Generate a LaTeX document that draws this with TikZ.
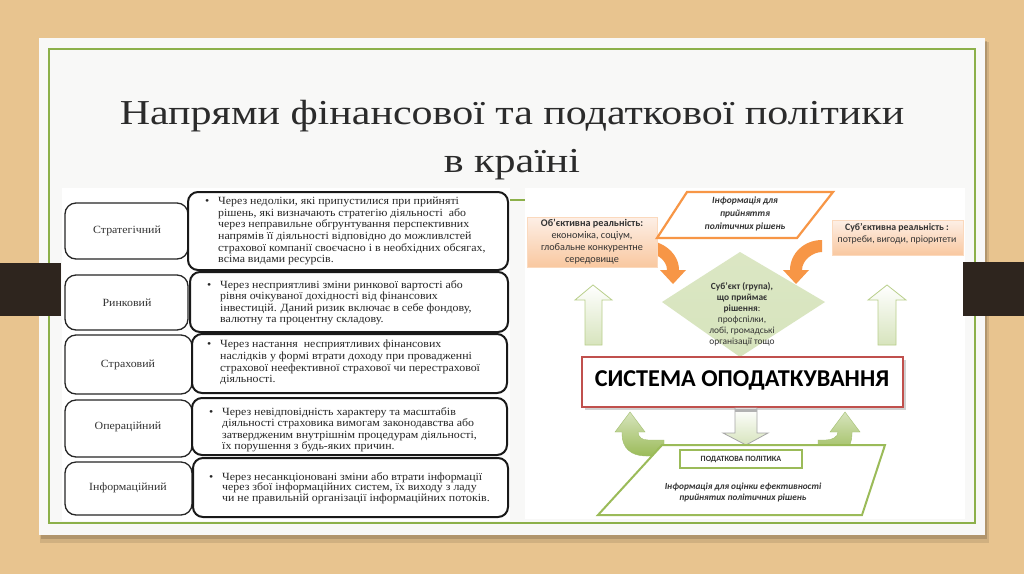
\documentclass[tikz,border=0pt]{standalone}
\usepackage{fontspec}
\setmainfont{Liberation Serif}
\newfontfamily\titlefont[FakeStretch=1.2]{Liberation Serif}
\newfontfamily\tabfont[FakeStretch=1.08]{Liberation Serif}
\newfontfamily\calfont{Carlito}
\definecolor{wood}{HTML}{E8C48F}
\definecolor{card}{HTML}{F8F8F7}
\definecolor{frameg}{HTML}{8CB04A}
\definecolor{barc}{HTML}{2E251E}
\definecolor{ttl}{HTML}{2B2B2B}
\definecolor{orng}{HTML}{F79646}
\definecolor{peachT}{HTML}{FDEFE6}
\definecolor{peachB}{HTML}{F9C8A0}
\definecolor{grn}{HTML}{9BBB59}
\definecolor{grnL}{HTML}{D7E4BD}
\definecolor{grnD}{HTML}{8AAE4A}
\definecolor{redb}{HTML}{C0504D}
\definecolor{txtg}{HTML}{333333}
\begin{document}
\begin{tikzpicture}[x=1pt,y=-1pt,
  labbox/.style={draw=black!85,line width=1.3pt,rounded corners=11pt,fill=white},
  descbox/.style={draw=black!90,line width=2pt,rounded corners=10pt,fill=white},
  labtxt/.style={font=\tabfont\fontsize{11}{12}\selectfont,text=black!80,inner sep=0pt},
  desctxt/.style={font=\tabfont\fontsize{11}{11.6}\selectfont,text=black!85,align=left,anchor=north west,inner sep=0pt},
  ttlstyle/.style={font=\titlefont\fontsize{35}{40}\selectfont,text=ttl,anchor=base,inner sep=0pt},
  rtxt/.style={font=\calfont\fontsize{9.5}{12}\selectfont,text=txtg,align=center,inner sep=0pt},
  greenarrow/.style={top color=grnL,bottom color=grn,draw=grnD!80,line width=0.4pt},
  hollowarrow/.style={top color=white,bottom color=grnL,draw=grn!70,line width=0.8pt}
]
\useasboundingbox (0,0) rectangle (1024,574);
% background
\fill[wood] (0,0) rectangle (1024,574);
% card shadow
\fill[black,opacity=0.10] (40,42) rectangle (989,543);
\fill[black,opacity=0.15] (41,41) rectangle (987,539);
\fill[card] (39,38) rectangle (985,535);
\draw[frameg,line width=1.2pt] (49,49) rectangle (975,523);
\draw[frameg,line width=1.2pt] (62,200) -- (965,200);
% title
\node[ttlstyle] (t1) at (512,124) {Напрями фінансової та податкової політики};
\node[ttlstyle] (t2) at (512,172) {в країні};
% image backgrounds
\fill[white] (62,188) rectangle (510,521);
\fill[white] (525,188) rectangle (965,519);
% side bars
\fill[barc] (0,263) rectangle (61,316);
\fill[barc] (963,262) rectangle (1024,316);

% ---------- left table ----------
\draw[labbox] (65,203) rectangle (188,259);
\draw[descbox] (188,192) rectangle (508,270);
\node[labtxt] (l1) at (127,231) {Стратегічний};
\node[desctxt] (d1) at (205,197) {\makebox[13pt][l]{•}Через недоліки, які припустилися при прийняті\\
\hspace*{13pt}рішень, які визначають стратегію діяльності~ або\\
\hspace*{13pt}через неправильне обгрунтування перспективних\\
\hspace*{13pt}напрямів її діяльності відповідно до можливлстей\\
\hspace*{13pt}страхової компанії своєчасно і в необхідних обсягах,\\
\hspace*{13pt}всіма видами ресурсів.};

\draw[labbox] (65,275) rectangle (188,330);
\draw[descbox] (190,272) rectangle (508,332);
\node[labtxt] (l2) at (127,303) {Ринковий};
\node[desctxt] (d2) at (207,280) {\makebox[13pt][l]{•}Через несприятливі зміни ринкової вартості або\\
\hspace*{13pt}рівня очікуваної дохідності від фінансових\\
\hspace*{13pt}інвестицій. Даний ризик включає в себе фондову,\\
\hspace*{13pt}валютну та процентну складову.};

\draw[labbox] (65,335) rectangle (192,394);
\draw[descbox] (192,334) rectangle (507,393);
\node[labtxt] (l3) at (128,365) {Страховий};
\node[desctxt] (d3) at (207,340) {\makebox[13pt][l]{•}Через настання~ несприятливих фінансових\\
\hspace*{13pt}наслідків у формі втрати доходу при провадженні\\
\hspace*{13pt}страхової неефективної страхової чи перестрахової\\
\hspace*{13pt}діяльності.};

\draw[labbox] (65,400) rectangle (192,457);
\draw[descbox] (192,398) rectangle (507,455);
\node[labtxt] (l4) at (128,427) {Операційний};
\node[desctxt] (d4) at (209,407) {\makebox[13pt][l]{•}Через невідповідність характеру та масштабів\\
\hspace*{13pt}діяльності страховика вимогам законодавства або\\
\hspace*{13pt}затвердженим внутрішнім процедурам діяльності,\\
\hspace*{13pt}їх порушення з будь-яких причин.};

\draw[labbox] (65,462) rectangle (192,515);
\draw[descbox] (193,458) rectangle (508,517);
\node[labtxt] (l5) at (128,488) {Інформаційний};
\node[desctxt,font=\tabfont\fontsize{11}{10.8}\selectfont] (d5) at (209,472) {\makebox[13pt][l]{•}Через несанкціоновані зміни або втрати інформації\\
\hspace*{13pt}через збої інформаційних систем, їх виходу з ладу\\
\hspace*{13pt}чи не правильній організації інформаційних потоків.};

% ---------- right diagram ----------
% orange curved arrows
\fill[orng] (643,240) .. controls (663,240) and (679,253.5) .. (679,270) -- (686,270) -- (673,284) -- (660,270) -- (667,270) .. controls (667,260) and (656,252) .. (643,252) -- cycle;
\fill[orng] (822,240) .. controls (804,240) and (790,253.5) .. (790,270) -- (783,270) -- (796,284) -- (809,270) -- (802,270) .. controls (802,260) and (813,252) .. (822,252) -- cycle;
% side boxes
\shade[top color=peachT,bottom color=peachB,draw=peachB!70!white,line width=0.4pt] (527,217) rectangle (657,267);
\node[rtxt,font=\calfont\fontsize{10.2}{12}\selectfont] (obj) at (592,242) {\textbf{Об’єктивна реальність:}\\економіка, соціум,\\глобальне конкурентне\\середовище};
\shade[top color=peachT,bottom color=peachB,draw=peachB!70!white,line width=0.4pt] (832,220) rectangle (963,255);
\node[rtxt,font=\calfont\fontsize{9.8}{12}\selectfont] (subj) at (897,234) {\textbf{Суб’єктивна реальність :}\\потреби, вигоди, пріоритети};
% top parallelogram
\draw[orng,line width=2.2pt,fill=white] (687,192) -- (833,192) -- (797,238) -- (657,238) -- cycle;
\node[rtxt,font=\calfont\bfseries\itshape\fontsize{9.5}{13}\selectfont] (info1) at (745,214) {Інформація для\\прийняття\\політичних рішень};
% diamond
\shade[top color=grnL!90!white,bottom color=grnL] (740,252) -- (825,302) -- (740,357) -- (662,302) -- cycle;
\node[rtxt,font=\calfont\fontsize{9.4}{11}\selectfont] (subjg) at (742,314) {\textbf{Суб’єкт (група),}\\\textbf{що приймає}\\\textbf{рішення}:\\профспілки,\\лобі, громадські\\організації тощо};
% straight up arrows
\shade[hollowarrow] (593,285) -- (612,300) -- (602,300) -- (602,345) -- (585,345) -- (585,300) -- (575,300) -- cycle;
\shade[hollowarrow] (887,285) -- (906,300) -- (896,300) -- (896,345) -- (878,345) -- (878,300) -- (868,300) -- cycle;
% system box
\fill[black,opacity=0.18] (585,360) rectangle (906,410);
\draw[redb,line width=2pt,fill=white] (582,357) rectangle (903,407);
\node[font=\calfont\bfseries\fontsize{24.2}{28}\selectfont,inner sep=0pt] (sys) at (742,380) {СИСТЕМА ОПОДАТКУВАННЯ};
% down arrow
\shade[top color=white,bottom color=grnL,draw=black!35,line width=0.8pt] (735,408) -- (757,408) -- (757,433) -- (768,433) -- (746,445) -- (723,433) -- (735,433) -- cycle;
\fill[black!30] (735.4,409) rectangle (756.6,412);
% green curved arrows
\shade[greenarrow] (615,432) -- (630,412) -- (645,432) -- (638,432) .. controls (638,437) and (642,440) .. (648,440) -- (664,440) -- (664,456) -- (646,456) .. controls (631,456) and (622,448) .. (622,434) -- (622,432) -- cycle;
\shade[greenarrow] (830,432) -- (845,412) -- (860,432) -- (852,432) -- (852,434) .. controls (852,448) and (843,456) .. (828,456) -- (818,456) -- (818,440) -- (826,440) .. controls (832,440) and (838,437) .. (838,432) -- cycle;
% bottom parallelogram
\draw[grn,line width=2pt,fill=white] (662,445) -- (885,445) -- (862,515) -- (598,515) -- cycle;
\draw[grn,line width=1.5pt,fill=white] (680,450) rectangle (802,468);
\node[font=\calfont\bfseries\fontsize{8}{10}\selectfont,text=txtg,inner sep=0pt] (pp) at (741,459) {ПОДАТКОВА ПОЛІТИКА};
\node[rtxt,font=\calfont\bfseries\itshape\fontsize{9.3}{11}\selectfont] (info2) at (743,492) {Інформація для оцінки ефективності\\прийнятих політичних рішень};
\end{tikzpicture}
\end{document}
